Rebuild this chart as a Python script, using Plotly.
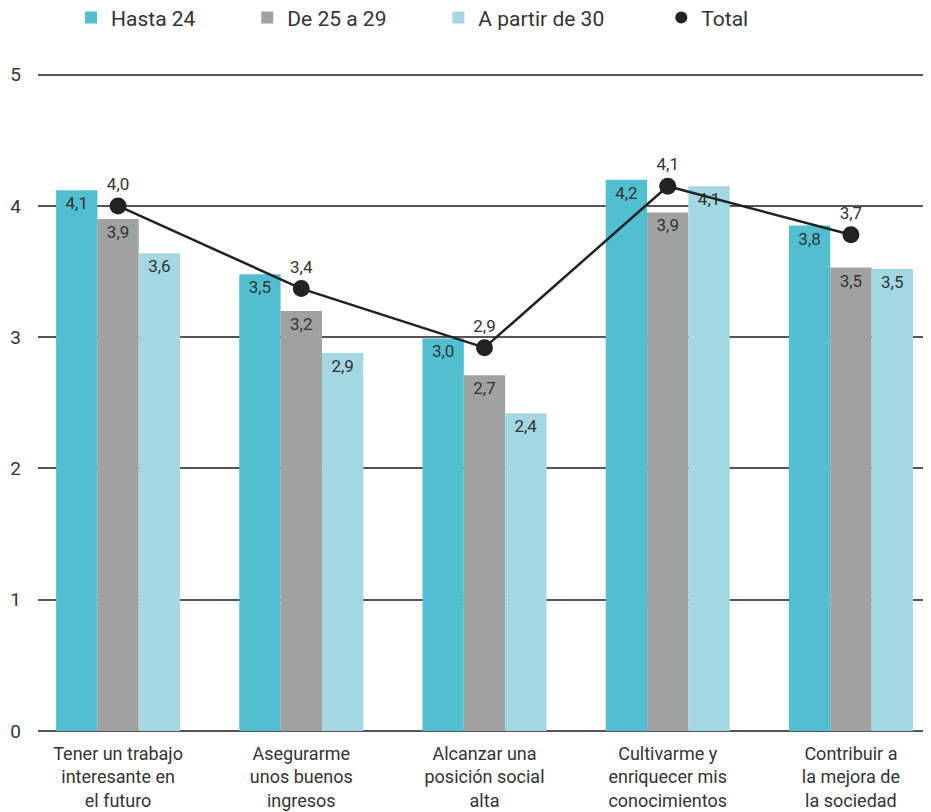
import plotly.graph_objects as go

categories = [
    "Tener un trabajo<br>interesante en<br>el futuro",
    "Asegurarme<br>unos buenos<br>ingresos",
    "Alcanzar una<br>posición social<br>alta",
    "Cultivarme y<br>enriquecer mis<br>conocimientos",
    "Contribuir a<br>la mejora de<br>la sociedad",
]

hasta_24 = [4.12, 3.48, 2.99, 4.20, 3.85]
de_25_29 = [3.90, 3.20, 2.71, 3.95, 3.53]
desde_30 = [3.64, 2.88, 2.42, 4.15, 3.52]
total = [4.00, 3.37, 2.92, 4.15, 3.78]

hasta_24_txt = ["4,1", "3,5", "3,0", "4,2", "3,8"]
de_25_29_txt = ["3,9", "3,2", "2,7", "3,9", "3,5"]
desde_30_txt = ["3,6", "2,9", "2,4", "4,1", "3,5"]
total_txt = ["4,0", "3,4", "2,9", "4,1", "3,7"]

FONT = "Roboto"
TXT = "#333333"
NB = "\u00a0"

fig = go.Figure()

bar_series = [
    ("Hasta 24", hasta_24, hasta_24_txt, "#52BFD0", 9),
    ("De 25 a 29", de_25_29, de_25_29_txt, "#A0A2A2", 9),
    ("A partir de 30", desde_30, desde_30_txt, "#A3D7E2", 10),
]
for name, vals, txt, color, pad in bar_series:
    fig.add_trace(
        go.Bar(
            x=categories,
            y=vals,
            name=name + NB * pad,
            marker={"color": color, "line": {"width": 0}},
            text=txt,
            textposition="inside",
            insidetextanchor="end",
            textangle=0,
            insidetextfont={"family": FONT, "size": 17, "color": TXT},
            cliponaxis=False,
        )
    )

# Total line (legend shows just the dot)
fig.add_trace(
    go.Scatter(
        x=categories,
        y=total,
        mode="lines+markers+text",
        line={"color": "#222222", "width": 2.5},
        marker={"color": "#222222", "size": 17},
        text=total_txt,
        textposition="top center",
        textfont={"family": FONT, "size": 17, "color": TXT},
        showlegend=False,
        cliponaxis=False,
    )
)
fig.add_trace(
    go.Scatter(
        x=[None],
        y=[None],
        mode="markers",
        name="Total",
        marker={"color": "#222222", "size": 13},
    )
)

# page body adds 8px margin, so the figure is sized to the remaining view
fig.update_layout(
    width=923,
    height=804,
    barmode="group",
    bargap=0.323,
    bargroupgap=0,
    plot_bgcolor="white",
    paper_bgcolor="white",
    font={"family": FONT, "size": 18, "color": TXT},
    margin={"l": 30, "r": 0, "t": 64, "b": 81, "autoexpand": False},
    legend={
        "orientation": "h",
        "xref": "paper",
        "yref": "paper",
        "x": 0.037,
        "y": 1.082,
        "xanchor": "left",
        "yanchor": "middle",
        "font": {"family": FONT, "size": 21, "color": TXT},
        "itemsizing": "constant",
    },
    showlegend=True,
)

fig.update_xaxes(
    range=[-0.437, 4.437],
    showgrid=False,
    showline=False,
    ticks="",
    automargin=False,
    ticklabelstandoff=10,
    tickfont={"family": FONT, "size": 18, "color": TXT},
)
fig.update_yaxes(
    range=[0, 5.02],
    tickvals=[0, 1, 2, 3, 4, 5],
    showgrid=True,
    gridcolor="#555555",
    gridwidth=1.5,
    zeroline=True,
    zerolinecolor="#555555",
    zerolinewidth=1.5,
    layer="above traces",
    ticks="",
    automargin=False,
    ticklabelstandoff=16,
    tickfont={"family": FONT, "size": 19, "color": TXT},
)

fig.write_html("out.html")
